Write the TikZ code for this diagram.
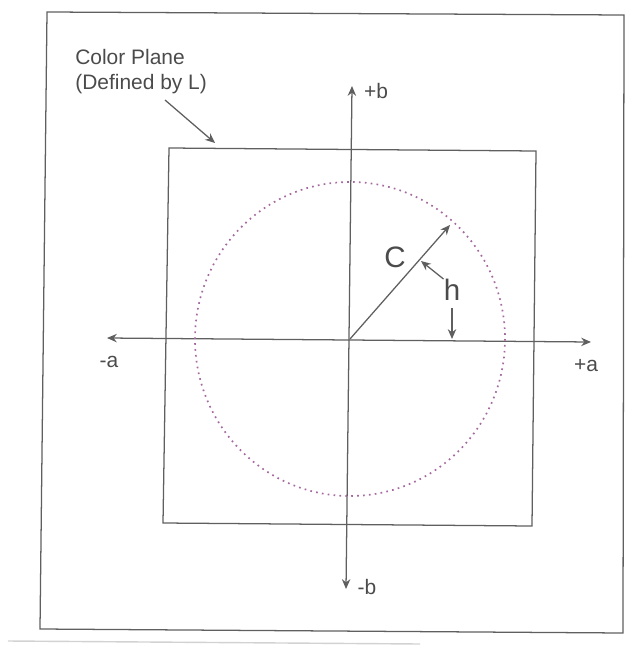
\documentclass[tikz,border=0pt]{standalone}
\usepackage{fontspec}
\setmainfont{Liberation Sans}
\usetikzlibrary{arrows.meta}
\definecolor{ink}{RGB}{95,95,95}
\definecolor{txt}{RGB}{75,75,75}
\definecolor{dotc}{RGB}{165,105,160}
\begin{document}
\begin{tikzpicture}[x=0.025cm, y=-0.025cm, >={Stealth[length=7pt,width=6pt]},
    line/.style={ink, line width=0.9pt},
    lbl/.style={txt, inner sep=0pt, font=\fontsize{14.9}{17.7}\selectfont},
    big/.style={txt, inner sep=0pt, font=\fontsize{21}{24}\selectfont}]
    \useasboundingbox (0,0) rectangle (627,650);

    % outer frame
    \draw[line] (47,12) -- (624,15) -- (623,633) -- (40,629) -- cycle;
    \draw[gray!35, line width=1pt] (8,641) -- (420,644);

    % color plane
    \draw[line] (169,148) -- (536,151) -- (532,526) -- (163,523) -- cycle;
    \node[lbl, anchor=west, align=left] (plane) at (75,72) {Color Plane\\(Defined by L)};
    \coordinate (ptail) at (165,100);
    \coordinate (ptip) at (215,143);
    \draw[line, ->] (ptail) -- (ptip);

    % axes
    \coordinate (O) at (350,339);
    \coordinate (aneg) at (107,338);
    \coordinate (apos) at (591,342);
    \coordinate (bpos) at (352,86);
    \coordinate (bneg) at (346,589);
    \draw[line, <->] (aneg) -- (apos);
    \draw[line, <->] (bneg) -- (bpos);
    \node[lbl] (aneglbl) at (109,362) {-a};
    \node[lbl] (aposlbl) at (586,366) {+a};
    \node[lbl] (bposlbl) at (376,91) {+b};
    \node[lbl] (bneglbl) at (367,587) {-b};

    % chroma circle
    \draw[dotc, line width=1.2pt, dash pattern=on 1.2pt off 3pt] (O) ellipse [x radius=155, y radius=157];

    % C and h
    \coordinate (cend) at (450,225);
    \draw[line, ->] (O) -- (cend);
    \node[big] (clbl) at (395,257) {C};
    \node[big] (hlbl) at (452,290) {h};
    \coordinate (htip) at (421,261);
    \draw[line, ->] (hlbl.north west) -- (htip);
    \draw[line, ->, shorten <=5pt] (hlbl.south) -- (hlbl.south |- O);
\end{tikzpicture}
\end{document}
